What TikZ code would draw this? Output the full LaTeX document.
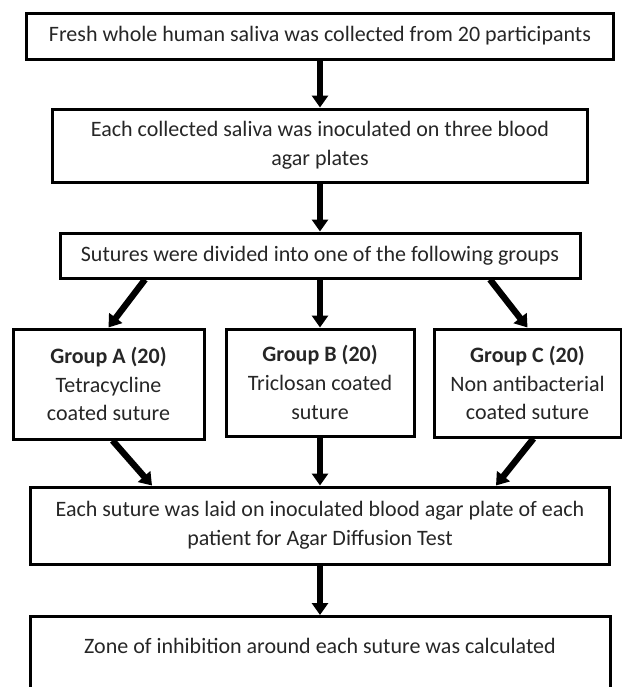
\documentclass[tikz,border=0pt]{standalone}
\usepackage{fontspec}
\setmainfont{Carlito}
\usetikzlibrary{arrows.meta}

\begin{document}
\begin{tikzpicture}[x=0.5pt, y=-0.5pt,
    kasten/.style={draw, line width=1.5pt, align=center, inner sep=0pt, text=black!85, font=\fontsize{11}{14.3}\selectfont},
    pfeil/.style={line width=3.2pt, -{Triangle[width=8pt,length=6pt]}}]
    \useasboundingbox (0,0) rectangle (622,687);
    \clip (0,0) rectangle (622,687);

    \node[kasten, minimum width=293.5pt, minimum height=23pt] (saliva) at (320,36) {Fresh whole human saliva was collected from 20 participants};
    \node[kasten, minimum width=267.5pt, minimum height=36.5pt] (inoc) at (320,145.5) {Each collected saliva was inoculated on three blood\\agar plates};
    \node[kasten, minimum width=260pt, minimum height=22.5pt] (groups) at (320,255.5) {Sutures were divided into one of the following groups};

    \node[kasten, minimum width=95.5pt, minimum height=55pt] (grpA) at (108.5,384) {\textbf{Group A (20)}\\Tetracycline\\coated suture};
    \node[kasten, minimum width=94pt, minimum height=53.5pt] (grpB) at (320,382.5) {\textbf{Group B (20)}\\Triclosan coated\\suture};
    \node[kasten, minimum width=93.5pt, minimum height=54pt] (grpC) at (527.5,383) {\textbf{Group C (20)}\\Non antibacterial\\coated suture};

    \node[kasten, minimum width=289.5pt, minimum height=38.5pt] (laid) at (320,525.5) {Each suture was laid on inoculated blood agar plate of each\\patient for Agar Diffusion Test};
    % box runs past the lower edge
    \node[kasten, minimum width=290pt, anchor=north, text height=18.4pt, text depth=40pt] (zone) at (320,615) {Zone of inhibition around each suture was calculated};

    \draw[pfeil] (saliva) -- (inoc);
    \draw[pfeil] (inoc) -- (groups);

    \draw[pfeil] ([xshift=-87.5pt]groups.south) -- (grpA.north);
    \draw[pfeil] (groups) -- (grpB);
    \draw[pfeil] ([xshift=85pt]groups.south) -- (grpC.north);

    \draw[pfeil] ([xshift=2pt]grpA.south) -- ([xshift=-84pt]laid.north);
    \draw[pfeil] (grpB) -- (laid);
    \draw[pfeil] ([xshift=3pt]grpC.south) -- ([xshift=88pt]laid.north);

    \draw[pfeil] (laid) -- (zone);
\end{tikzpicture}
\end{document}
